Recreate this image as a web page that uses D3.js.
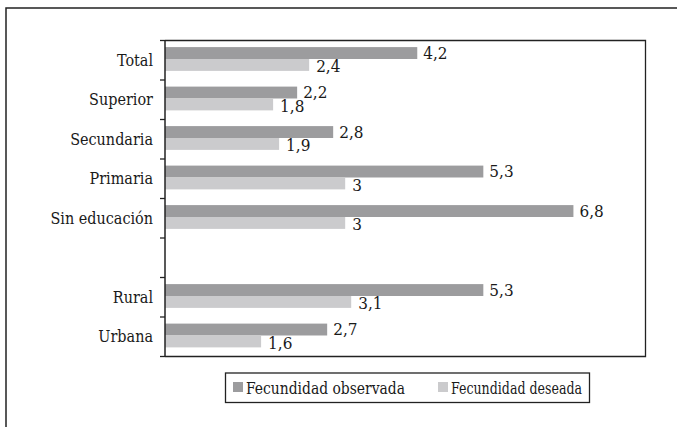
<!DOCTYPE html>
<html>
<head>
<meta charset="utf-8">
<script src="https://cdn.jsdelivr.net/npm/d3@7"></script>
<style>
  html, body { margin: 0; padding: 0; background: #fff; }
  svg { display: block; }
  svg text { font-family: "DejaVu Serif Condensed", "DejaVu Serif", serif; font-stretch: condensed; }
</style>
</head>
<body>
<svg id="chart" width="677" height="427"></svg>
<script>
// ---- data ----
const categories = ["Total", "Superior", "Secundaria", "Primaria", "Sin educación", "", "Rural", "Urbana"];
const observed = [4.2, 2.2, 2.8, 5.3, 6.8, null, 5.3, 2.7];
const desired  = [2.4, 1.8, 1.9, 3.0, 3.0, null, 3.1, 1.6];
const seriesNames = ["Fecundidad observada", "Fecundidad deseada"];
const seriesColors = ["#9c9c9e", "#cbcbcd"];
const xDomain = [0, 8];

const fmt = v => String(v).replace(".", ",");

const svg = d3.select("#chart");
const plot = { left: 165, right: 645.5, top: 40.5, bottom: 356.5 };
const textColor = "#1a1a1a";

// outer frame (cropped at right / bottom)
svg.append("rect")
  .attr("x", 6).attr("y", 8).attr("width", 720).attr("height", 500)
  .attr("fill", "none").attr("stroke", "#222").attr("stroke-width", 1.5);

const keys = categories.map((c, i) => "k" + i);
const y = d3.scaleBand().domain(keys).range([plot.top, plot.bottom]).padding(0);
const x = d3.scaleLinear().domain(xDomain).range([plot.left, plot.right]);
const ySub = d3.scaleBand().domain([0, 1]).range([0, y.bandwidth()]).paddingInner(0).paddingOuter(0.66).align(0.42);

const g = svg.append("g");
g.append("path")
  .attr("d", `M${plot.left},${plot.top}H${plot.right}V${plot.bottom}H${plot.left}`)
  .attr("fill", "none").attr("stroke", "#222").attr("stroke-width", 1.3);

const rows = categories.map((c, i) => ({ key: keys[i], cat: c, vals: [observed[i], desired[i]] }));

rows.forEach(r => {
  r.vals.forEach((v, s) => {
    if (v == null) return;
    g.append("rect")
      .attr("x", x(0))
      .attr("y", y(r.key) + ySub(s))
      .attr("width", x(v) - x(0))
      .attr("height", ySub.bandwidth())
      .attr("fill", seriesColors[s]);
  });
});

rows.forEach(r => {
  r.vals.forEach((v, s) => {
    if (v == null) return;
    const barBottom = y(r.key) + ySub(s) + ySub.bandwidth();
    g.append("text")
      .attr("x", x(v) + (s === 0 ? 6 : 7))
      .attr("y", barBottom + (s === 0 ? 0 : 1.5))
      .attr("font-size", 17)
      .attr("fill", textColor)
      .text(fmt(v));
  });
});

const yAxis = svg.append("g");
yAxis.append("line")
  .attr("x1", plot.left).attr("x2", plot.left)
  .attr("y1", plot.top).attr("y2", plot.bottom)
  .attr("stroke", "#222").attr("stroke-width", 1.5);
const boundaries = keys.map(k => y(k)).concat([y(keys[keys.length - 1]) + y.step()]);
yAxis.selectAll("line.tick").data(boundaries).enter().append("line")
  .attr("class", "tick")
  .attr("x1", plot.left - 5).attr("x2", plot.left)
  .attr("y1", d => d).attr("y2", d => d)
  .attr("stroke", "#222").attr("stroke-width", 1.3);
yAxis.selectAll("text.cat").data(rows).enter().append("text")
  .attr("class", "cat")
  .attr("x", plot.left - 12)
  .attr("y", d => y(d.key) + y.bandwidth() / 2)
  .attr("dy", "0.35em")
  .attr("text-anchor", "end")
  .attr("font-size", 16)
  .attr("fill", textColor)
  .text(d => d.cat);

const legend = svg.append("g");
legend.append("rect")
  .attr("x", 225.5).attr("y", 373).attr("width", 364).attr("height", 29.5)
  .attr("fill", "#fff").attr("stroke", "#222").attr("stroke-width", 1.3);
const legX = [233, 438];
const legW = [159, 131];
seriesNames.forEach((n, i) => {
  legend.append("rect")
    .attr("x", legX[i]).attr("y", 382).attr("width", 10).attr("height", 10)
    .attr("fill", seriesColors[i]);
  legend.append("text")
    .attr("x", legX[i] + 13).attr("y", 393.5)
    .attr("font-size", 16)
    .attr("textLength", legW[i])
    .attr("lengthAdjust", "spacingAndGlyphs")
    .attr("fill", textColor)
    .text(n);
});
</script>
</body>
</html>
